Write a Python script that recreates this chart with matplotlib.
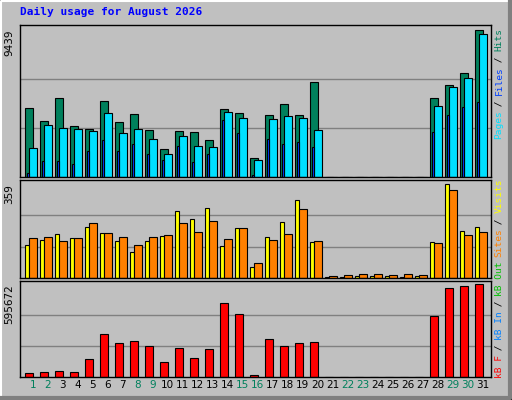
import matplotlib
matplotlib.use("Agg")
import matplotlib.pyplot as plt
import numpy as np

days = list(range(1, 32))
hits = [4419, 3604, 5062, 3260, 3067, 4869, 3518, 4033, 3003, 1780, 2939, 2874, 2360, 4354, 4097, 1201,
        3968, 4676, 3968, 6092, 0, 0, 0, 0, 0, 0, 0, 5062, 5899, 6671, 9439]
pages = [1845, 3325, 3132, 3067, 2939, 4097, 2810, 3067, 2424, 1459, 2617, 1973, 1909, 4161, 3775, 1073,
         3711, 3904, 3775, 3003, 0, 0, 0, 0, 0, 0, 0, 4547, 5770, 6349, 9181]
files = [236, 1008, 1008, 815, 1652, 2360, 1652, 2102, 1459, 1073, 1973, 944, 1459, 3647, 2810, 107,
         2424, 2102, 2231, 1909, 0, 0, 0, 0, 0, 0, 0, 2874, 3968, 4483, 4805]
visits = [125, 144, 168, 152, 195, 172, 140, 98, 140, 160, 254, 226, 265, 121, 191, 43,
          156, 215, 297, 137, 4, 4, 7, 7, 7, 4, 7, 137, 359, 180, 195]
sites = [152, 156, 140, 152, 211, 172, 156, 125, 156, 164, 211, 176, 218, 148, 191, 59,
         144, 168, 261, 140, 8, 12, 16, 16, 12, 16, 12, 133, 335, 164, 176]
kbytes = [26000, 33000, 39000, 33000, 118000, 275000, 216000, 229000, 196000, 98000, 183000, 124000,
          177000, 471000, 406000, 13000, 242000, 196000, 216000, 223000, 0, 0, 0, 0, 0, 0, 0,
          393000, 569000, 583000, 595672]
weekend = [1, 2, 8, 9, 15, 16, 22, 23, 29, 30]

BG = "#c0c0c0"
x = np.array(days)

fig = plt.figure(figsize=(5.12, 4.0), dpi=100, facecolor=BG)

def make_ax(bottom, height, vmax):
    ax = fig.add_axes([0.039, bottom, 0.92, height], facecolor=BG)
    ax.set_xlim(0.153, 31.55)
    ax.set_ylim(0, vmax * 1.035)
    for g in (vmax / 3, vmax * 2 / 3):
        ax.axhline(g, color="#808080", lw=1, zorder=0)
    ax.set_xticks([])
    ax.set_yticks([])
    for s in ax.spines.values():
        s.set_color("black")
        s.set_linewidth(1)
    return ax

def bars(ax, left, width, vals, color):
    ax.bar(x + left, vals, width, align="edge", color=color, edgecolor="black", lw=0.8,
           zorder=2)

# top: hits / pages / files
ax1 = make_ax(0.5575, 0.381, max(hits))
bars(ax1, -0.51, 0.51, hits, "#00805c")
bars(ax1, -0.23, 0.50, pages, "#00e0ff")
bars(ax1, -0.40, 0.13, files, "#0040ff")

# middle: visits / sites
ax2 = make_ax(0.305, 0.244, max(visits))
bars(ax2, -0.51, 0.28, visits, "#ffff00")
bars(ax2, -0.23, 0.50, sites, "#ff8000")

# bottom: kbytes
ax3 = make_ax(0.0575, 0.241, max(kbytes))
bars(ax3, -0.51, 0.51, kbytes, "#ff0000")

for d in days:
    ax3.text(d, -0.03, str(d), transform=ax3.get_xaxis_transform(), ha="center", va="top",
             fontsize=7.5, color="#00805c" if d in weekend else "black")

# max labels at left
for ax, vmax in ((ax1, max(hits)), (ax2, max(visits)), (ax3, max(kbytes))):
    ax.text(-0.012, vmax, str(vmax), transform=ax.get_yaxis_transform(), rotation=90,
            ha="right", va="top", fontsize=7.5)

fig.text(20 / 512, 1 - 12 / 400, "Daily usage for August 2026", color="#0000ff",
         family="DejaVu Sans Mono", weight="bold", fontsize=8, va="center")

def legend(pieces, y_top_px):
    total = sum(len(t) for t, c in pieces)
    step = 5.5
    y = y_top_px + total * step
    for t, c in pieces:
        fig.text(499 / 512, 1 - y / 400, t, color=c, rotation=90, rotation_mode="anchor",
                 ha="left", va="center", family="DejaVu Sans Mono", fontsize=6.8)
        y -= len(t) * step

legend([("Pages", "#00e0ff"), (" / ", "black"), ("Files", "#0040ff"), (" / ", "black"),
        ("Hits", "#00805c")], 29)
legend([("kB F", "#ff0000"), (" / ", "black"), ("kB In", "#0080ff"), (" / ", "black"),
        ("kB Out", "#00c000"), (" ", "black"), ("Sites", "#ff8000"), (" / ", "black"),
        ("Visits", "#ffff00")], 180)

# bevelled border
fig.add_artist(plt.Line2D([0.002, 0.002, 0.998], [0.003, 0.997, 0.997], color="white", lw=1.5))
fig.add_artist(plt.Line2D([0.002, 0.996, 0.996], [0.005, 0.005, 0.997], color="#808080", lw=3))
fig.add_artist(plt.Rectangle((0, 0), 1, 1, fill=False, ec="black", lw=1.5,
                             transform=fig.transFigure))

fig.savefig("out.png", dpi=100, facecolor=BG)
